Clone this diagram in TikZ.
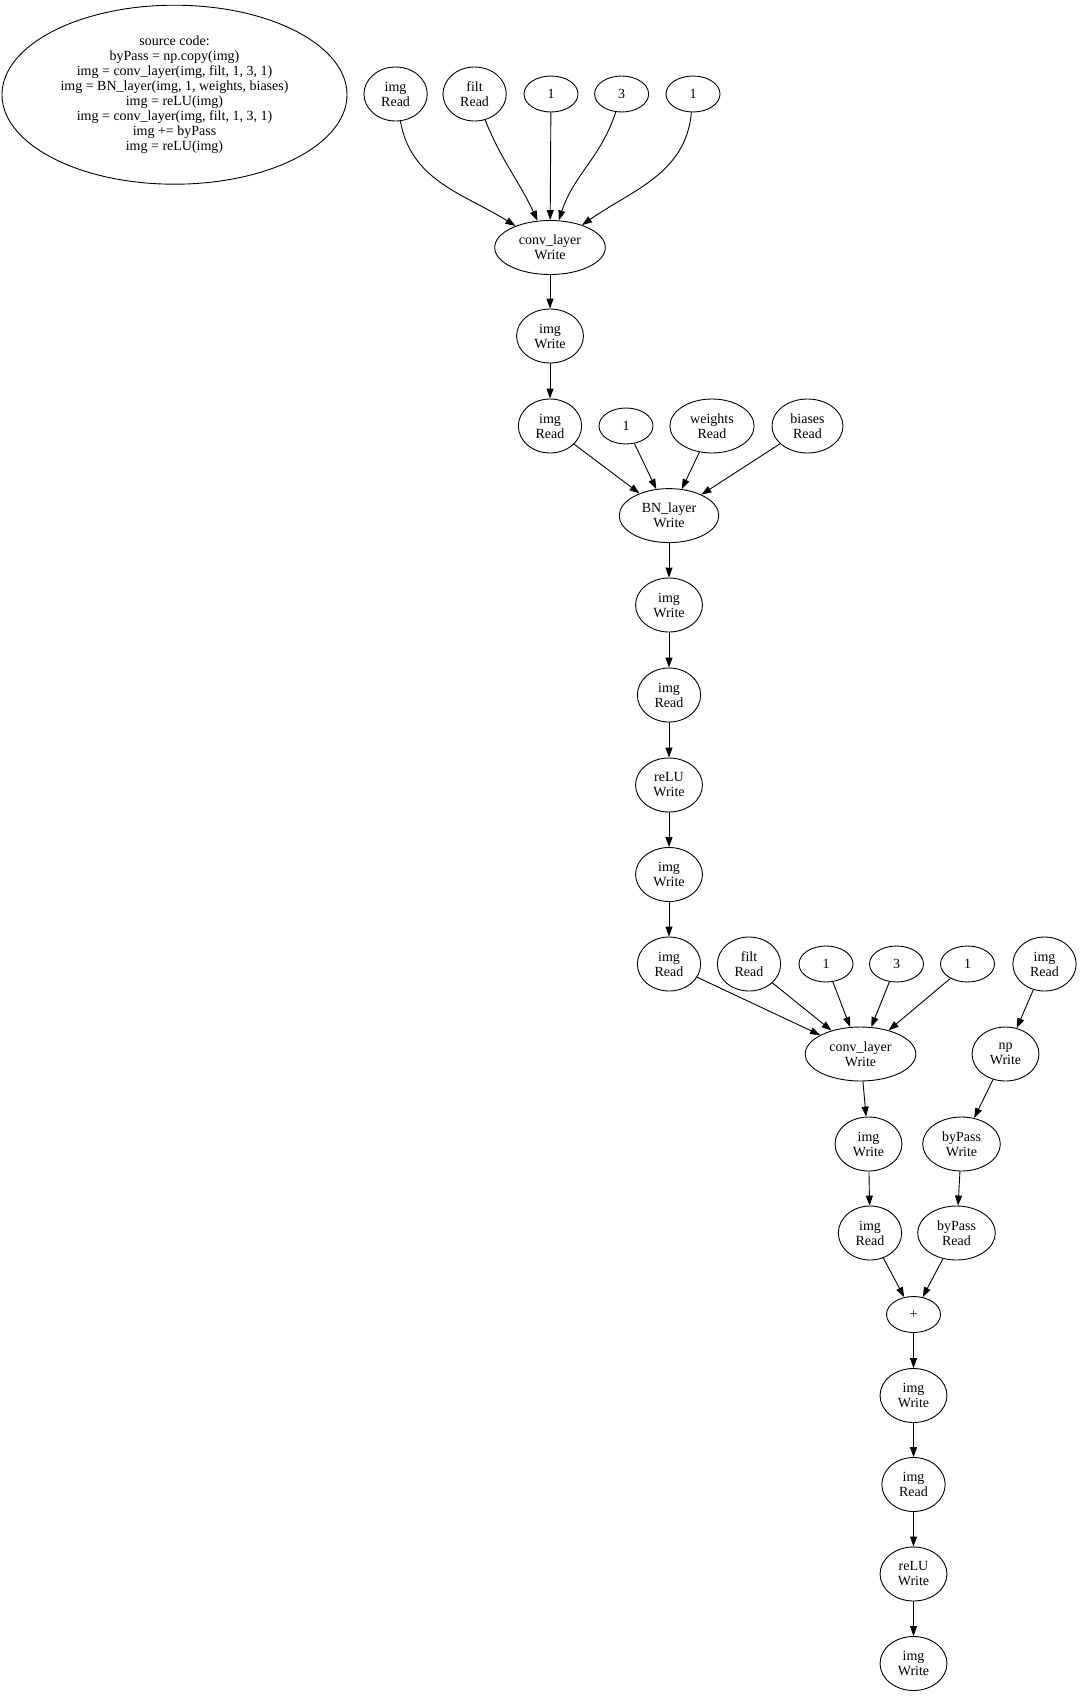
\documentclass[tikz,border=0pt]{standalone}
\usepackage{fontspec}
\setmainfont{Liberation Serif}
\usetikzlibrary{shapes.geometric,arrows.meta}
\begin{document}
\begin{tikzpicture}[x=1pt,y=-1pt,
  nd/.style={ellipse,draw,line width=0.9pt,inner xsep=8pt,inner ysep=1pt,minimum width=54pt,minimum height=36pt,
    align=center,font=\fontsize{14}{15}\selectfont},
  tl/.style={nd,minimum height=54pt},
  ar/.style={line width=0.9pt,-{Triangle[length=10pt,width=7pt]}}]
\useasboundingbox (0,0) rectangle (1081,1697);
\node[nd,minimum width=343pt,minimum height=179pt] (src) at (174.5,94.7)
  {source code:\\byPass = np.copy(img)\\img = conv\_layer(img, filt, 1, 3, 1)\\img = BN\_layer(img, 1, weights, biases)\\img = reLU(img)\\img = conv\_layer(img, filt, 1, 3, 1)\\img += byPass\\img = reLU(img)};
% row 1
\node[tl] (imgRa) at (395.6,94) {img\\Read};
\node[tl] (filtRa) at (474.6,94) {filt\\Read};
\node[nd] (oneA) at (551,94) {1};
\node[nd] (threeA) at (621.6,94) {3};
\node[nd] (oneB) at (693,94) {1};
\node[tl] (convA) at (550,247.5) {conv\_layer\\Write};
\node[tl] (imgWa) at (550,336) {img\\Write};
% row 2
\node[tl] (imgRb) at (550,426) {img\\Read};
\node[nd] (oneC) at (626,426) {1};
\node[tl] (wR) at (712,426) {weights\\Read};
\node[tl] (bR) at (807.5,426) {biases\\Read};
\node[tl] (bn) at (669,515.6) {BN\_layer\\Write};
\node[tl] (imgWb) at (669,605) {img\\Write};
\node[tl] (imgRc) at (669,695) {img\\Read};
\node[tl] (reluA) at (669,785) {reLU\\Write};
\node[tl] (imgWc) at (669,874.5) {img\\Write};
% row 4
\node[tl] (imgRd) at (669,964) {img\\Read};
\node[tl] (filtRb) at (749,964) {filt\\Read};
\node[nd] (oneD) at (826,964) {1};
\node[nd] (threeB) at (896.5,964) {3};
\node[nd] (oneE) at (967.5,964) {1};
\node[tl] (imgRe) at (1044.5,964) {img\\Read};
\node[tl] (convB) at (860.5,1054) {conv\_layer\\Write};
\node[tl] (npW) at (1005.5,1054) {np\\Write};
\node[tl] (imgWd) at (868.5,1144) {img\\Write};
\node[tl] (bpW) at (961.5,1144) {byPass\\Write};
\node[tl] (imgRf) at (870,1233) {img\\Read};
\node[tl] (bpR) at (956.5,1233) {byPass\\Read};
\node[nd] (plus) at (913.5,1314.5) {+};
\node[tl] (imgWe) at (913.5,1395.5) {img\\Write};
\node[tl] (imgRg) at (913.5,1484.5) {img\\Read};
\node[tl] (reluB) at (913.5,1574) {reLU\\Write};
\node[tl] (imgWf) at (913.5,1663.5) {img\\Write};
% edges
\draw[ar] (imgRa) to[out=-80,in=148] (convA);
\draw[ar] (filtRa) to[out=-68,in=115] (convA);
\draw[ar] (oneA) -- (convA);
\draw[ar] (threeA) to[out=-108,in=72] (convA);
\draw[ar] (oneB) to[out=-95,in=35] (convA);
\draw[ar] (convA) -- (imgWa);
\draw[ar] (imgWa) -- (imgRb);
\draw[ar] (imgRb) -- (bn);
\draw[ar] (oneC) -- (bn);
\draw[ar] (wR) -- (bn);
\draw[ar] (bR) -- (bn);
\draw[ar] (bn) -- (imgWb);
\draw[ar] (imgWb) -- (imgRc);
\draw[ar] (imgRc) -- (reluA);
\draw[ar] (reluA) -- (imgWc);
\draw[ar] (imgWc) -- (imgRd);
\draw[ar] (imgRd) -- (convB);
\draw[ar] (filtRb) -- (convB);
\draw[ar] (oneD) -- (convB);
\draw[ar] (threeB) -- (convB);
\draw[ar] (oneE) -- (convB);
\draw[ar] (imgRe) -- (npW);
\draw[ar] (npW) -- (bpW);
\draw[ar] (convB) -- (imgWd);
\draw[ar] (imgWd) -- (imgRf);
\draw[ar] (bpW) -- (bpR);
\draw[ar] (imgRf) -- (plus);
\draw[ar] (bpR) -- (plus);
\draw[ar] (plus) -- (imgWe);
\draw[ar] (imgWe) -- (imgRg);
\draw[ar] (imgRg) -- (reluB);
\draw[ar] (reluB) -- (imgWf);
\end{tikzpicture}
\end{document}
